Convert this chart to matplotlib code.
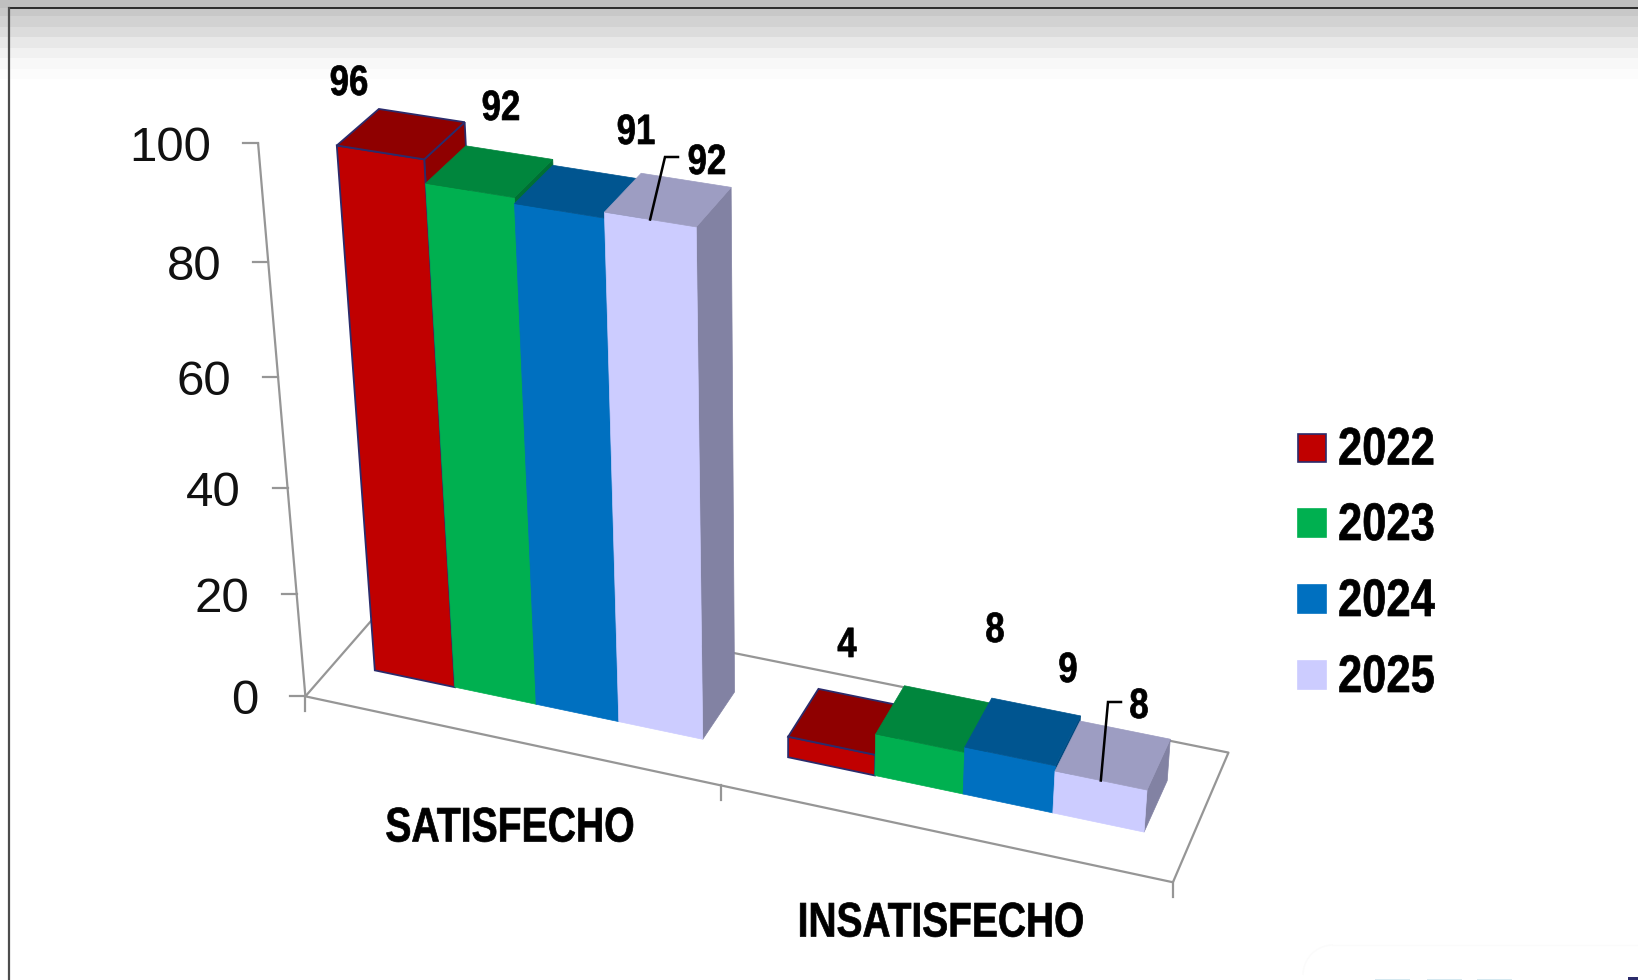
import numpy as np
import matplotlib
matplotlib.use('Agg')
import matplotlib.pyplot as plt
from matplotlib.patches import Rectangle, Arc
from matplotlib.patheffects import AbstractPathEffect
from matplotlib.transforms import Affine2D

# %% Data
categories = ['SATISFECHO', 'INSATISFECHO']
years = ['2022', '2023', '2024', '2025']
values_2022 = [96, 4]
values_2023 = [92, 8]
values_2024 = [91, 9]
values_2025 = [92, 8]
z_ticks = [0, 20, 40, 60, 80, 100]

series = [values_2022, values_2023, values_2024, values_2025]

# %% Styles
front_colors = ['#C00000', '#00B050', '#0070C0', '#CCCCFF']
top_colors = ['#8F0000', '#00863D', '#005590', '#9D9DC2']
side_colors = ['#8F0000', '#006F33', '#004A80', '#8282A3']
edge_colors = ['#2B2B6B', None, None, None]
grey = '#969696'

regular = ['Liberation Sans', 'DejaVu Sans']

# Bars sit at these fractions of a category cell
bar_start = 0.1
bar_width = 0.2
depth_front = 0.3
depth_back = 0.7

# %% Fit the perspective of the fake 3D view (x cat, y depth, z value) -> pixel
S = 1638 / 1568
anchors = [
    (0, 0, 0, 293, 666), (1, 0, 0, 690, 752), (2, 0, 0, 1122, 845),
    (2, 1, 0, 1175, 719), (0, 1, 0, 384, 562),
    (0, 0, 20, 285, 568), (0, 0, 40, 275, 467), (0, 0, 60, 266, 361),
    (0, 0, 80, 256, 250), (0, 0, 100, 247, 137),
    (0.1, 0.3, 0, 358, 642), (0.9, 0.3, 0, 673, 707), (0.9, 0.7, 0, 703, 661),
    (0.1, 0.3, 96, 322, 140), (0.1, 0.7, 96, 363, 104),
    (0.3, 0.7, 96, 446, 116), (0.3, 0.3, 96, 406, 153),
    (0.9, 0.3, 92, 667, 217), (0.9, 0.7, 92, 699, 180),
    (1.1, 0.3, 0, 754, 727), (1.9, 0.3, 0, 1096, 795),
    (1.9, 0.7, 0, 1119, 749), (1.9, 0.7, 8, 1120, 708),
]
rows, rhs = [], []
for x, y, z, u, v in anchors:
    u, v, z = u * S, v * S, z / 100
    rows.append([x, y, z, 1, 0, 0, 0, 0, -u * x, -u * y, -u * z])
    rows.append([0, 0, 0, 0, x, y, z, 1, -v * x, -v * y, -v * z])
    rhs += [u, v]
cam = np.linalg.lstsq(np.array(rows), np.array(rhs), rcond=None)[0]
cam = np.append(cam, 1).reshape(3, 4)


def proj(x, y, z):
    p = cam @ np.array([x, y, z / 100, 1])
    return p[0] / p[2], p[1] / p[2]


def face(ax, pts, color, edge):
    xy = np.array([proj(*p) for p in pts])
    if edge is None:
        ax.fill(xy[:, 0], xy[:, 1], facecolor=color, edgecolor=color, linewidth=0.5, zorder=3)
    else:
        ax.fill(xy[:, 0], xy[:, 1], facecolor=color, edgecolor=edge, linewidth=1.3, zorder=3)


def line3d(ax, pts):
    xy = np.array([proj(*p) for p in pts])
    ax.plot(xy[:, 0], xy[:, 1], color=grey, linewidth=1.6, solid_capstyle='butt', zorder=2)


# No narrow bold font is installed, so the text is squeezed sideways when drawn
class Squeeze(AbstractPathEffect):
    def __init__(self, cx, sx):
        super().__init__()
        self.cx = cx
        self.sx = sx

    def draw_path(self, renderer, gc, tpath, affine, rgbFace=None):
        squeeze = Affine2D().translate(-self.cx, 0).scale(self.sx, 1).translate(self.cx, 0)
        gc.set_foreground('black')
        gc.set_linewidth(0.5)
        renderer.draw_path(gc, tpath, affine + squeeze, rgbFace)


def narrow_text(ax, u, v, s, size, ha='center', sx=0.82):
    ax.text(u, v, s, family=regular, fontweight='bold', fontsize=size, ha=ha, va='center',
            color='black', zorder=6, path_effects=[Squeeze(u, sx)])


# %% Canvas
fig = plt.figure(figsize=(16.38, 9.8), dpi=100)
ax = fig.add_axes([0, 0, 1, 1])
ax.set_xlim(0, 1638)
ax.set_ylim(980, 0)
ax.axis('off')

# Grey header bands of the slide
band_edges = [0, 8, 16, 27, 37, 48, 58, 69, 79]
band_colors = ['#BFBFBF', '#C8C8C8', '#D2D2D2', '#DCDCDC', '#E8E8E8', '#F1F1F1', '#F8F8F8', '#FCFCFC']
for k in range(len(band_colors)):
    ax.add_patch(Rectangle((0, band_edges[k]), 1638, band_edges[k + 1] - band_edges[k],
                           facecolor=band_colors[k], edgecolor='none'))
ax.plot([8.5, 1638], [8.5, 8.5], color='#111111', linewidth=1.2)
ax.plot([9, 9], [8.5, 980], color='#4D4D4D', linewidth=1.6)

# Floor and value axis
line3d(ax, [(0, 1, 0), (0, 0, 0), (2, 0, 0), (2, 1, 0), (0, 1, 0)])
line3d(ax, [(0, 0, 0), (0, 0, 100)])
for z in z_ticks:
    u, v = proj(0, 0, z)
    ax.plot([u - 15, u], [v, v], color=grey, linewidth=1.6)
    ax.text(u - 47, v + 5.5, str(z), family=regular, fontsize=35.5, ha='right', va='center', color='#111111')
for k in range(len(categories) + 1):
    u, v = proj(k, 0, 0)
    ax.plot([u, u], [v, v + 15], color=grey, linewidth=1.6)

# Bars, left to right so the later ones cover the earlier side faces
for c in range(len(categories)):
    for s in range(len(years)):
        x0 = c + bar_start + s * bar_width
        x1 = x0 + bar_width
        y0, y1 = depth_front, depth_back
        h = series[s][c]
        face(ax, [(x1, y0, 0), (x1, y1, 0), (x1, y1, h), (x1, y0, h)], side_colors[s], edge_colors[s])
        face(ax, [(x0, y0, 0), (x1, y0, 0), (x1, y0, h), (x0, y0, h)], front_colors[s], edge_colors[s])
        face(ax, [(x0, y0, h), (x1, y0, h), (x1, y1, h), (x0, y1, h)], top_colors[s], edge_colors[s])

# Data labels, moved by hand in the original chart
label_pos = [(349, 84), (501, 109), (636, 133), (707, 163), (847, 646), (995, 631), (1068, 671), (1139, 707)]
labels = [series[s][c] for c in range(2) for s in range(4)]
for (u, v), val in zip(label_pos, labels):
    narrow_text(ax, u, v, str(val), 30.5)

# Leader lines of the two 2025 labels
for c, px, py in [(0, 665, 157), (1, 1108, 702)]:
    x_mid = c + bar_start + 3.5 * bar_width
    u, v = proj(x_mid, depth_front, values_2025[c])
    ax.plot([u, px, px + 13], [v, py, py], color='black', linewidth=1.8, solid_joinstyle='miter', zorder=5)

# Category labels
narrow_text(ax, 510, 829, categories[0], 35, sx=0.805)
narrow_text(ax, 941, 924, categories[1], 35, sx=0.80)

# Legend
legend_y = [447.5, 523, 599, 675]
for s in range(len(years)):
    ax.add_patch(Rectangle((1298, legend_y[s] - 14), 28, 28, facecolor=front_colors[s],
                           edgecolor=edge_colors[s] if edge_colors[s] else front_colors[s], linewidth=1.2))
    narrow_text(ax, 1338, legend_y[s] + 3, years[s], 38, ha='left', sx=0.825)

# Bits of the next slide element in the bottom right corner
ax.add_patch(Arc((1333, 975), 60, 60, theta1=180, theta2=270, edgecolor='#FBFBFB', linewidth=1))
ax.plot([1333, 1638], [945, 945], color='#FBFBFB', linewidth=1)
for u in [1375, 1427, 1477]:
    ax.add_patch(Rectangle((u, 979), 35, 1, facecolor='#D5E8F0', edgecolor='none'))
ax.add_patch(Rectangle((1628, 977), 10, 3, facecolor='#2B2B6B', edgecolor='none'))

fig.savefig('out.png', dpi=100)
